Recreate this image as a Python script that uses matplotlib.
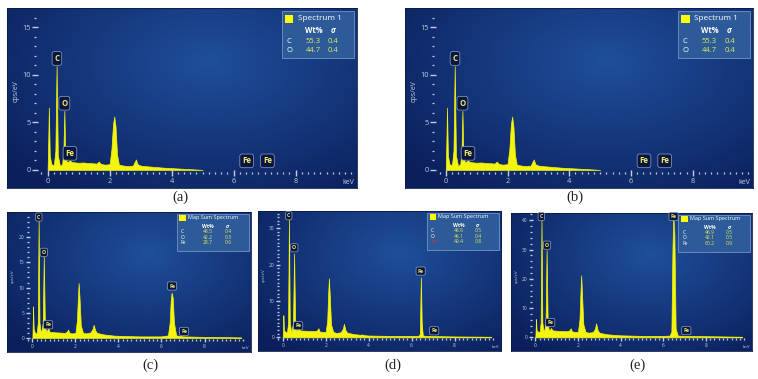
import numpy as np
import matplotlib.pyplot as plt
from matplotlib.colors import to_rgb
from matplotlib.patches import Rectangle
from matplotlib.ticker import FixedLocator

plt.rcParams['font.family'] = ['Open Sans', 'DejaVu Sans']

# EDS spectra: energy (keV) and counts (cps/eV)
kev_ab = [0.0, 0.02, 0.04, 0.07, 0.12, 0.2, 0.25, 0.29, 0.33, 0.4, 0.47, 0.51, 0.54, 0.57,
          0.62, 0.68, 0.72, 0.77, 0.85, 1.0, 1.15, 1.3, 1.45, 1.58, 1.65, 1.72, 1.85, 2.0,
          2.06, 2.11, 2.15, 2.19, 2.24, 2.3, 2.45, 2.6, 2.75, 2.81, 2.85, 2.9, 3.0, 3.2,
          3.5, 3.8, 4.2, 4.6, 5.0]
cps_ab = [0.0, 3.0, 6.55, 1.5, 0.6, 0.5, 2.0, 10.9, 1.5, 0.4, 0.6, 2.0, 6.2, 1.6,
          0.8, 0.9, 1.0, 0.85, 0.8, 0.75, 0.78, 0.72, 0.7, 0.66, 0.87, 0.62, 0.55, 0.6,
          2.2, 4.8, 5.6, 4.6, 1.6, 0.55, 0.45, 0.4, 0.45, 0.85, 1.1, 0.6, 0.45, 0.38,
          0.3, 0.22, 0.15, 0.08, 0.0]

kev_cde = [0.0, 0.02, 0.03, 0.06, 0.12, 0.2, 0.25, 0.29, 0.33, 0.4, 0.48, 0.53, 0.58, 0.64,
           0.7, 0.74, 0.8, 0.95, 1.1, 1.3, 1.5, 1.6, 1.66, 1.72, 1.85, 2.0, 2.07, 2.12,
           2.15, 2.19, 2.25, 2.35, 2.5, 2.7, 2.8, 2.85, 2.92, 3.0, 3.3, 3.6, 3.7, 3.8,
           4.0, 4.5, 5.0, 5.5, 6.0, 6.3, 6.38, 6.43, 6.47, 6.52, 6.58, 6.68, 7.0, 7.5,
           8.0, 9.0, 9.7]
cps_c = [0.0, 3.5, 6.25, 1.8, 1.0, 0.9, 3.0, 23.5, 3.0, 0.8, 3.0, 16.1, 3.0, 1.2,
         1.6, 2.0, 1.2, 1.15, 1.1, 1.05, 1.0, 1.2, 1.65, 1.0, 0.9, 0.95, 3.5, 8.5,
         10.9, 8.0, 2.5, 1.0, 0.9, 1.1, 1.8, 2.6, 1.5, 1.0, 0.7, 0.55, 0.5, 0.45,
         0.42, 0.35, 0.3, 0.3, 0.3, 0.5, 3.0, 7.5, 9.0, 8.0, 3.0, 0.5, 0.3, 0.25,
         0.2, 0.15, 0.1]
cps_d = [0.0, 3.5, 6.1, 2.0, 1.5, 1.4, 4.0, 32.7, 4.0, 1.2, 4.0, 23.0, 4.0, 1.8,
         2.2, 2.6, 1.9, 1.85, 1.8, 1.75, 1.7, 1.9, 2.5, 1.6, 1.5, 1.5, 4.5, 12.5,
         16.2, 11.5, 3.5, 1.5, 1.2, 1.4, 2.4, 3.7, 2.0, 1.3, 0.9, 0.7, 0.8, 0.6,
         0.5, 0.45, 0.4, 0.4, 0.4, 0.4, 0.8, 16.5, 4.0, 0.5, 0.45, 0.4, 0.35, 0.3,
         0.25, 0.2, 0.15]
cps_e = [0.0, 3.5, 6.25, 2.5, 2.0, 1.8, 5.0, 40.2, 5.0, 1.5, 5.0, 29.8, 5.0, 2.2,
         2.8, 3.2, 2.4, 2.3, 2.2, 2.15, 2.1, 2.4, 3.1, 2.0, 1.9, 1.9, 6.0, 16.0,
         21.2, 15.0, 4.5, 1.9, 1.6, 1.8, 3.0, 4.8, 2.5, 1.6, 1.1, 0.9, 0.85, 0.8,
         0.7, 0.6, 0.5, 0.5, 0.5, 0.6, 2.0, 30.0, 41.7, 35.0, 3.0, 0.6, 0.5, 0.45,
         0.4, 0.3, 0.2]

# peak tags: (element, keV, cps/eV)
tags_ab = [('C', 0.30, 11.7), ('O', 0.54, 7.0), ('Fe', 0.72, 1.74), ('Fe', 6.42, 0.95), ('Fe', 7.09, 0.95)]
tags_c = [('C', 0.30, 24.0), ('O', 0.53, 17.0), ('Fe', 0.73, 2.6), ('Fe', 6.49, 10.3), ('Fe', 7.05, 1.3)]
tags_d = [('C', 0.28, 33.4), ('O', 0.54, 24.6), ('Fe', 0.72, 3.2), ('Fe', 6.42, 18.2), ('Fe', 7.05, 1.8)]
tags_e = [('C', 0.28, 41.3), ('O', 0.55, 31.5), ('Fe', 0.70, 5.1), ('Fe', 6.48, 41.3), ('Fe', 7.08, 2.3)]

# quantification tables
elements_ab = ['C', 'O']
wt_ab = ['55.3', '44.7']
sigma_ab = ['0.4', '0.4']
elements_cde = ['C', 'O', 'Fe']
wt_c = ['48.5', '42.2', '28.7']
sigma_c = ['0.4', '0.3', '0.6']
wt_d = ['48.6', '46.1', '49.4']
sigma_d = ['0.5', '0.4', '0.8']
wt_e = ['46.9', '42.1', '60.2']
sigma_e = ['0.5', '0.5', '0.9']

W, H = 758, 379
YEL = '#f4f40c'
TICK = '#c3cce0'
BG_IN = np.array(to_rgb('#1f4f9b'))
BG_OUT = np.array(to_rgb('#0b1f5c'))

fig = plt.figure(figsize=(W / 100, H / 100), dpi=100)
fig.patch.set_facecolor('white')


def rect(x0, y0, x1, y1):
    return [x0 / W, 1 - y1 / H, (x1 - x0) / W, (y1 - y0) / H]


gy, gx = np.mgrid[0:1:120j, 0:1:240j]
t = np.clip(np.hypot((gx - 0.58) / 0.75, (gy - 0.3) / 0.9), 0, 1)[..., None]
grad = BG_IN * (1 - t) + BG_OUT * t


def draw_panel(box, kev, cps, xlim, ylim, spine, yticks, yminor, tags,
               title, elements, wt, sigma, big, el_colors=None):
    bg = fig.add_axes(rect(*box))
    bg.imshow(grad, aspect='auto', extent=[0, 1, 0, 1], interpolation='bilinear')
    bg.set_xticks([])
    bg.set_yticks([])
    for s in bg.spines.values():
        s.set_color('#0a1a4a')
        s.set_linewidth(0.6)

    ax = fig.add_axes(rect(*box))
    ax.patch.set_visible(False)
    ax.fill_between(kev, cps, color=YEL, ec=YEL, lw=0.5)
    ax.set_xlim(*xlim)
    ax.set_ylim(*ylim)

    fs = 5.3 if big else 3.5
    fl = 5.5 if big else 3.6
    ax.spines['left'].set_position(('data', spine[0]))
    ax.spines['bottom'].set_position(('data', spine[1]))
    for s in ax.spines.values():
        s.set_visible(False)
    ax.xaxis.set_major_locator(FixedLocator([0, 2, 4, 6, 8]))
    ax.xaxis.set_minor_locator(FixedLocator(np.arange(-0.2, 9.9, 0.2)))
    ax.yaxis.set_major_locator(FixedLocator(yticks))
    ax.yaxis.set_minor_locator(FixedLocator(np.arange(0, ylim[1], yminor)))
    ax.tick_params(which='both', direction='inout', colors=TICK, labelsize=fs, pad=1.2)
    ax.tick_params(which='major', length=4.5 if big else 3.2, width=1.0)
    ax.tick_params(which='minor', length=2 if big else 1.4, width=0.9)

    ax.text(0.025, 0.54, 'cps/eV', rotation=90, transform=ax.transAxes,
            ha='center', va='center', fontsize=fs - 0.3, color=TICK)
    ax.text(0.975, 0.03, 'keV', transform=ax.transAxes,
            ha='center', va='center', fontsize=fs - 0.3, color=TICK)

    for el, x, y in tags:
        ax.text(x, y, el, ha='center', va='center', fontsize=fs + 0.3, color='#eeee6a',
                fontweight='bold', zorder=6,
                bbox=dict(boxstyle='round,pad=0.3', fc='#0a1640', ec='#8fa3c9', lw=0.5))

    # legend / quantification box
    lx0 = 0.785 if big else 0.695
    lx1, ly0, ly1 = 0.99, 0.72, 0.985

    def lp(rx, ry):
        return lx0 + rx * (lx1 - lx0), ly1 - ry * (ly1 - ly0)

    ax.add_patch(Rectangle((lx0, ly0), lx1 - lx0, ly1 - ly0, transform=ax.transAxes,
                           fc='#2d5b99', ec='#7593c4', lw=0.6, zorder=5))
    if big:
        sq, ty, hy, ry, tx = (0.04, 0.08, 0.16, 0.25), 0.17, 0.42, [0.64, 0.84], 0.22
    else:
        sq, ty, hy, ry, tx = (0.04, 0.03, 0.13, 0.18), 0.1, 0.33, [0.475, 0.62, 0.765], 0.16
    qx0, qy0 = lp(sq[0], sq[3])
    qx1, qy1 = lp(sq[2], sq[1])
    ax.add_patch(Rectangle((qx0, qy0), qx1 - qx0, qy1 - qy0, transform=ax.transAxes,
                           fc='#ffff00', ec='none', zorder=6))
    ax.text(*lp(tx, ty), title, transform=ax.transAxes, ha='left', va='center',
            fontsize=fl + 0.4, color='white', zorder=7)
    ax.text(*lp(0.44, hy), 'Wt%', transform=ax.transAxes, ha='center', va='center',
            fontsize=fl, color='white', fontweight='bold', zorder=7)
    ax.text(*lp(0.71, hy), 'σ', transform=ax.transAxes, ha='center', va='center',
            fontsize=fl, color='white', fontweight='bold', style='italic', zorder=7)
    if el_colors is None:
        el_colors = ['white'] * len(elements)
    for el, w, s, c, y in zip(elements, wt, sigma, el_colors, ry):
        ax.text(*lp(0.06, y), el, transform=ax.transAxes, ha='left', va='center',
                fontsize=fl, color=c, zorder=7)
        ax.text(*lp(0.44, y), w, transform=ax.transAxes, ha='center', va='center',
                fontsize=fl, color='#dfe85a', zorder=7)
        ax.text(*lp(0.72, y), s, transform=ax.transAxes, ha='center', va='center',
                fontsize=fl, color='#dfe85a', zorder=7)


draw_panel((7, 8, 357, 188), kev_ab, cps_ab, (-1.31, 9.98), (-1.9, 17.0), (-0.4, -0.35),
           [0, 5, 10, 15], 1, tags_ab, 'Spectrum 1', elements_ab, wt_ab, sigma_ab, True)
draw_panel((405, 8, 753, 188), kev_ab, cps_ab, (-1.32, 9.95), (-1.9, 17.0), (-0.4, -0.35),
           [0, 5, 10, 15], 1, tags_ab, 'Spectrum 1', elements_ab, wt_ab, sigma_ab, True)
draw_panel((7, 212, 251, 352), kev_cde, cps_c, (-1.18, 10.16), (-2.8, 25.0), (-0.2, -0.35),
           [0, 5, 10, 15, 20], 1, tags_c, 'Map Sum Spectrum', elements_cde, wt_c, sigma_c, False)
draw_panel((258, 211, 501, 351), kev_cde, cps_d, (-1.15, 10.16), (-3.75, 34.7), (-0.22, -0.55),
           [0, 10, 20, 30], 1, tags_d, 'Map Sum Spectrum', elements_cde, wt_d, sigma_d, False,
           el_colors=['white', 'white', '#e03030'])
draw_panel((511, 213, 752, 351), kev_cde, cps_e, (-1.14, 10.16), (-4.66, 42.5), (-0.19, -0.68),
           [0, 10, 20, 30, 40], 2, tags_e, 'Map Sum Spectrum', elements_cde, wt_e, sigma_e, False)

for lab, x, y in [('(a)', 180, 197), ('(b)', 575, 197), ('(c)', 150, 365),
                  ('(d)', 393, 365), ('(e)', 638, 365)]:
    fig.text(x / W, 1 - y / H, lab, ha='center', va='center',
             family='Liberation Serif', fontsize=10.5, color='#222222')

fig.savefig('out.png', dpi=100)
